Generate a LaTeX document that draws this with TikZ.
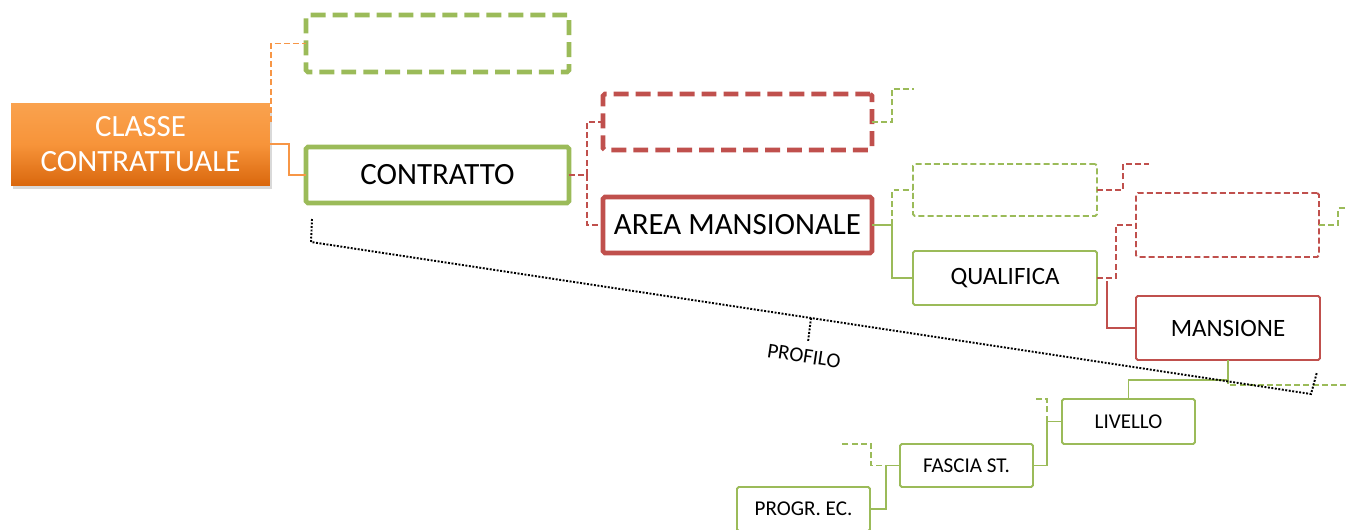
\documentclass[tikz,border=0pt]{standalone}
\usepackage{fontspec}
\setmainfont{Carlito}
\usepackage{xcolor}
\usepackage{tikz}
\usetikzlibrary{positioning,shadows,calc}
\definecolor{ogtop}{RGB}{250,162,78}
\definecolor{ogmid}{RGB}{247,148,58}
\definecolor{ogbot}{RGB}{218,104,14}
\definecolor{ogline}{RGB}{247,150,70}
\definecolor{grn}{RGB}{155,187,89}
\definecolor{rd}{RGB}{192,80,77}
\newcommand{\bigtxt}{\fontsize{17.6}{19.5}\selectfont}
\newcommand{\midtxt}{\fontsize{14.2}{16}\selectfont}
\newcommand{\smtxt}{\fontsize{12}{14}\selectfont}

\begin{document}
\begin{tikzpicture}[x=0.02cm,y=-0.02cm,
    box/.style={rectangle,rounded corners=1pt,fill=white,inner sep=0pt,outer sep=0pt},
    thickbox/.style={box,line width=2.6pt,font=\bigtxt},
    thinbox/.style={box,line width=1.1pt},
    bigdash/.style={dash pattern=on 8.5pt off 4pt},
    smalldash/.style={dash pattern=on 3.4pt off 1.8pt},
    gline/.style={draw=grn,line width=0.9pt},
    rline/.style={draw=rd,line width=0.9pt},
    oline/.style={draw=ogline,line width=0.9pt},
    dotline/.style={draw=black,line width=1.1pt,dash pattern=on 1.1pt off 0.9pt}]
  \useasboundingbox (0,0) rectangle (1347,529);

  % livello 0 e 1
  \node[box,rounded corners=0pt,top color=ogtop,bottom color=ogbot,middle color=ogmid,
        drop shadow={shadow xshift=0.04cm,shadow yshift=-0.08cm,opacity=0.3},
        minimum width=5.18cm,minimum height=1.64cm,align=center,text=white,font=\bigtxt]
        (cls) at (140.5,144) {CLASSE\\CONTRATTUALE};
  \node[thickbox,draw=grn,bigdash,minimum width=5.26cm,minimum height=1.14cm] (topg) at (437.5,43.5) {};
  \node[thickbox,draw=grn,minimum width=5.26cm,minimum height=1.12cm] (ctr) at (437.5,175) {CONTRATTO};

  % livello 2
  \node[thickbox,draw=rd,bigdash,minimum width=5.38cm,minimum height=1.12cm] (topr) at (737.5,122) {};
  \node[thickbox,draw=rd,minimum width=5.38cm,minimum height=1.12cm] (area) at (737.5,225) {AREA MANSIONALE};

  % livello 3
  \node[thinbox,draw=grn,smalldash,minimum width=3.68cm,minimum height=1.04cm] (dg) at (1005,190) {};
  \node[thinbox,draw=grn,minimum width=3.68cm,minimum height=1.08cm,font=\midtxt] (qual) at (1005,278) {QUALIFICA};
  \node[thinbox,draw=rd,smalldash,minimum width=3.66cm,minimum height=1.28cm] (dr) at (1227.5,225) {};
  \node[thinbox,draw=rd,minimum width=3.68cm,minimum height=1.28cm,font=\midtxt] (mans) at (1228,328) {MANSIONE};

  % scala verso il basso
  \node[thinbox,draw=grn,minimum width=2.66cm,minimum height=0.9cm,font=\smtxt] (liv) at (1128.5,421.5) {LIVELLO};
  \node[thinbox,draw=grn,minimum width=2.66cm,minimum height=0.86cm,font=\smtxt] (fas) at (966.5,465.5) {FASCIA ST.};
  \node[thinbox,draw=grn,minimum width=2.66cm,minimum height=0.88cm,font=\smtxt] (prog) at (803.5,509) {PROGR. EC.};

  % estremi liberi
  \coordinate (e1) at (914,89);
  \coordinate (e2) at (1149,164);
  \coordinate (e3) at (1347,208);
  \coordinate (e4) at (1347,385);
  \coordinate (e5) at (1033,399);
  \coordinate (e6) at (842,444);

  % connettori
  \draw[oline,smalldash] ([xshift=0.02cm,yshift=0.44cm]cls.east) |- (topg.west);
  \draw[oline] (cls.east) -- ++(19,0) |- (ctr.west);
  \draw[rline,smalldash] (ctr.east) -- ++(18,0) coordinate (ctrj) |- (topr.west)
        (ctrj) |- (area.west);
  \draw[gline,smalldash] (topr.east) -- ++(20,0) |- (e1);
  \draw[gline,smalldash] ([xshift=0.4cm]area.east) |- (dg.west);
  \draw[gline] (area.east) -- ++(20,0) |- (qual.west);
  \draw[rline,smalldash] (dg.east) -- ++(26,0) |- (e2);
  \draw[rline,smalldash] (qual.east) -- ++(19,0) |- (dr.west);
  \draw[rline] ([xshift=0.2cm,yshift=-0.06cm]qual.east) |- (mans.west);
  \draw[gline,smalldash] (dr.east) -- ++(19,0) |- (e3);
  \draw[gline,smalldash] (mans.south) |- (e4);
  \draw[gline] (mans.south) -- ++(0,20) -| (liv.north);
  \draw[gline,smalldash] ([xshift=-0.3cm]liv.west) |- (e5);
  \draw[gline] (liv.west) -- ++(-15,0) |- (fas.east);
  \draw[gline,smalldash] (fas.west) -- ++(-29,0) |- (e6);
  \draw[gline] (fas.west) -- ++(-14,0) |- (prog.east);

  % profilo
  \coordinate (p1) at (312,219);
  \coordinate (p2) at (311,242);
  \coordinate (pm) at (811,318);
  \coordinate (pt) at (808,342);
  \coordinate (p3) at (1311,394);
  \coordinate (p4) at (1317,372);
  \draw[dotline] (p1) -- (p2) -- (pm) -- (p3) -- (p4);
  \draw[dotline] (pm) -- (pt);
  \node[rotate=-8.6,font=\smtxt] (prof) at (804,356) {PROFILO};
\end{tikzpicture}
\end{document}
